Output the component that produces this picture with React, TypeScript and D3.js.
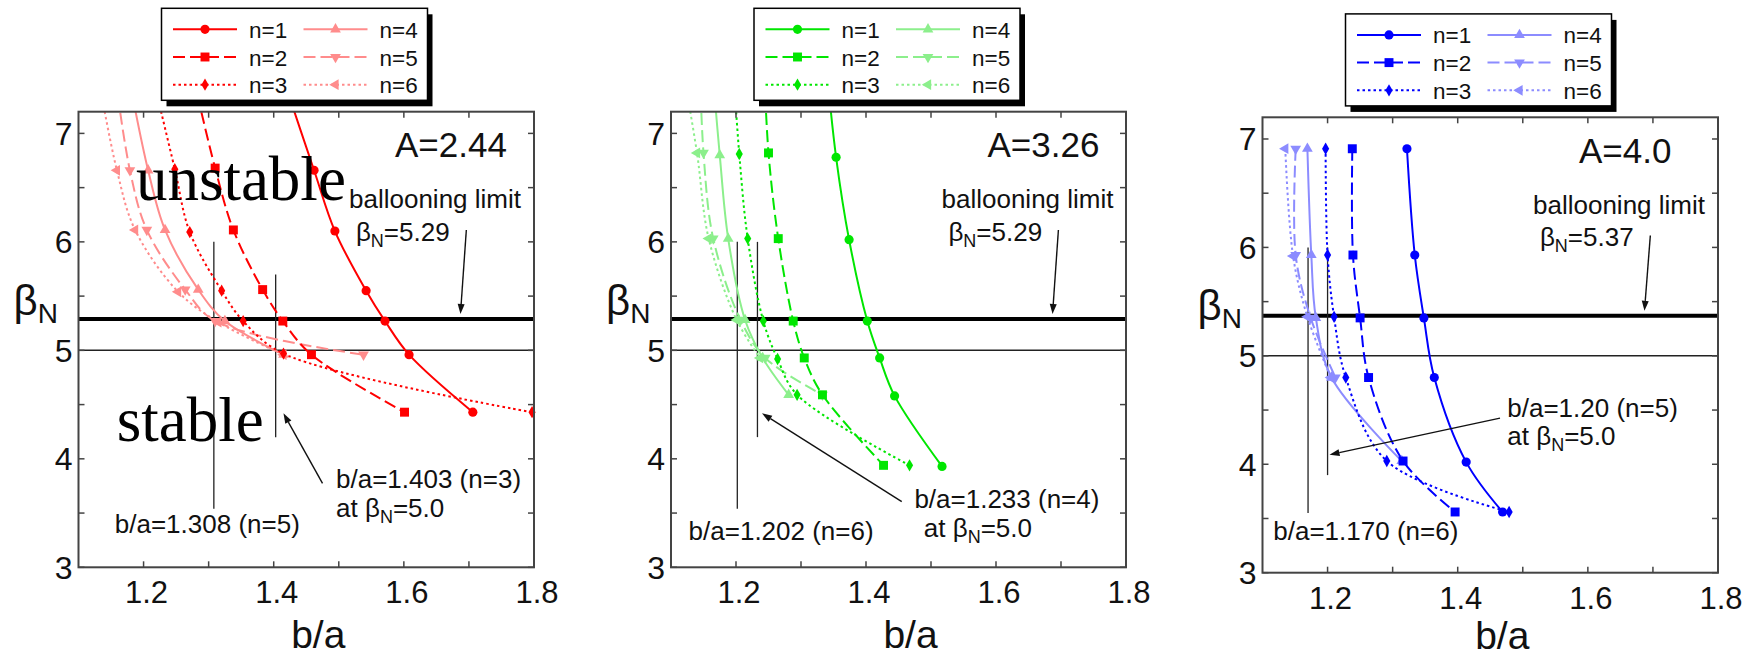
import React from "react";
import * as d3 from "d3";

type Pt = [number, number];

// ---------- axes ----------
const MODES = ["n=1", "n=2", "n=3", "n=4", "n=5", "n=6"];
const X_DOMAIN: Pt = [1.1, 1.8];
const Y_DOMAIN: Pt = [3, 7.2];
const X_MAJOR = [1.2, 1.4, 1.6, 1.8];
const X_MINOR = [1.3, 1.5, 1.7];
const Y_MAJOR = [3, 4, 5, 6, 7];
const Y_MINOR = [3.5, 4.5, 5.5, 6.5];

// ---------- A = 2.44 : beta_N limit vs b/a ----------
const a244N1: Pt[] = [[1.415, 7.5], [1.462, 6.66], [1.494, 6.10], [1.542, 5.55], [1.571, 5.27], [1.608, 4.96], [1.706, 4.43]];
const a244N2: Pt[] = [[1.277, 7.5], [1.310, 6.68], [1.338, 6.11], [1.383, 5.56], [1.414, 5.27], [1.458, 4.96], [1.601, 4.43]];
const a244N3: Pt[] = [[1.215, 7.5], [1.248, 6.67], [1.271, 6.09], [1.320, 5.55], [1.353, 5.27], [1.415, 4.97], [1.797, 4.43]];
const a244N4: Pt[] = [[1.178, 7.5], [1.207, 6.66], [1.233, 6.11], [1.284, 5.56], [1.325, 5.27], [1.415, 4.96]];
const a244N5: Pt[] = [[1.157, 7.5], [1.179, 6.66], [1.205, 6.11], [1.264, 5.56], [1.310, 5.27], [1.538, 4.96]];
const a244N6: Pt[] = [[1.131, 7.5], [1.159, 6.66], [1.187, 6.11], [1.253, 5.54], [1.315, 5.26], [1.415, 4.96]];

// ---------- A = 3.26 ----------
const a326N1: Pt[] = [[1.341, 7.5], [1.354, 6.78], [1.374, 6.02], [1.402, 5.27], [1.421, 4.93], [1.444, 4.58], [1.517, 3.93]];
const a326N2: Pt[] = [[1.244, 7.5], [1.250, 6.82], [1.265, 6.03], [1.288, 5.27], [1.305, 4.93], [1.333, 4.59], [1.427, 3.94]];
const a326N3: Pt[] = [[1.197, 7.5], [1.205, 6.81], [1.218, 6.03], [1.242, 5.27], [1.264, 4.92], [1.294, 4.59], [1.467, 3.94]];
const a326N4: Pt[] = [[1.165, 7.5], [1.175, 6.80], [1.188, 6.03], [1.214, 5.28], [1.241, 4.93], [1.281, 4.59]];
const a326N5: Pt[] = [[1.145, 7.5], [1.150, 6.82], [1.165, 6.03], [1.207, 5.28], [1.245, 4.93], [1.333, 4.59]];
const a326N6: Pt[] = [[1.121, 7.5], [1.140, 6.82], [1.158, 6.03], [1.201, 5.28], [1.237, 4.93]];

// ---------- A = 4.0 ----------
const a40N1: Pt[] = [[1.322, 6.91], [1.334, 5.93], [1.348, 5.35], [1.364, 4.80], [1.413, 4.02], [1.469, 3.56]];
const a40N2: Pt[] = [[1.238, 6.91], [1.239, 5.93], [1.250, 5.35], [1.263, 4.80], [1.316, 4.03], [1.396, 3.56]];
const a40N3: Pt[] = [[1.197, 6.91], [1.200, 5.93], [1.210, 5.36], [1.228, 4.80], [1.291, 4.03], [1.479, 3.56]];
const a40N4: Pt[] = [[1.169, 6.91], [1.175, 5.93], [1.182, 5.35], [1.206, 4.80], [1.314, 4.03]];
const a40N5: Pt[] = [[1.151, 6.91], [1.151, 5.93], [1.174, 5.35], [1.212, 4.80]];
const a40N6: Pt[] = [[1.135, 6.91], [1.147, 5.92], [1.169, 5.36], [1.205, 4.80]];

// ---------- reference levels & wall markers ----------
const BALLOONING = [5.29, 5.29, 5.37];
const BETA_REF = 5.0;
const WALL_MARKS = [
  [{ x: 1.308, top: 6.0, bottom: 3.54 }, { x: 1.403, top: 5.70, bottom: 4.2 }],
  [{ x: 1.202, top: 6.0, bottom: 3.54 }, { x: 1.233, top: 6.0, bottom: 4.2 }],
  [{ x: 1.170, top: 6.0, bottom: 3.55 }, { x: 1.20, top: 6.0, bottom: 3.90 }],
];
const WALL_ARROWS: { from: Pt; to: Pt }[] = [
  { from: [1.475, 3.774], to: [1.415, 4.419] },
  { from: [1.455, 3.605], to: [1.240, 4.419] },
  { from: [1.465, 4.426], to: [1.203, 4.088] },
];
const TITLES = ["A=2.44", "A=3.26", "A=4.0"];
const WALL_LABELS = [
  { near: "b/a=1.308 (n=5)", far: "b/a=1.403 (n=3)" },
  { near: "b/a=1.202 (n=6)", far: "b/a=1.233 (n=4)" },
  { near: "b/a=1.170 (n=6)", far: "b/a=1.20 (n=5)" },
];

// ---------- styling ----------
const PALETTES = [
  ["#ff0000", "#ff0000", "#ff0000", "#ff8c8c", "#ff8c8c", "#ff8c8c"],
  ["#00e600", "#00e600", "#00e600", "#8cef8c", "#8cef8c", "#8cef8c"],
  ["#0000ff", "#0000ff", "#0000ff", "#8c8cff", "#8c8cff", "#8c8cff"],
];
const DASHES = [null, "12,5", "2.5,3", null, "12,5", "2.5,3"];
const SANS = "'Liberation Sans', Arial, Helvetica, sans-serif";
const SERIF = "'Liberation Serif', 'Times New Roman', serif";

const FRAMES = [
  { x0: 78.5, x1: 534, y0: 111.7, y1: 567.3 },
  { x0: 671, x1: 1126, y0: 111.7, y1: 567.3 },
  { x0: 1262.5, x1: 1718, y0: 117.3, y1: 572.7 },
];

const SERIES = [
  [a244N1, a244N2, a244N3, a244N4, a244N5, a244N6],
  [a326N1, a326N2, a326N3, a326N4, a326N5, a326N6],
  [a40N1, a40N2, a40N3, a40N4, a40N5, a40N6],
];

function markerPath(i: number): { d: string; rot: number } {
  const sym = d3.symbol();
  switch (i) {
    case 0: return { d: sym.type(d3.symbolCircle).size(66)() as string, rot: 0 };
    case 1: return { d: sym.type(d3.symbolSquare).size(80)() as string, rot: 0 };
    case 2: return { d: sym.type(d3.symbolDiamond).size(44)() as string, rot: 0 };
    case 3: return { d: sym.type(d3.symbolTriangle).size(50)() as string, rot: 0 };
    case 4: return { d: sym.type(d3.symbolTriangle).size(50)() as string, rot: 180 };
    default: return { d: sym.type(d3.symbolTriangle).size(50)() as string, rot: -90 };
  }
}

function Marker({ i, cx, cy, color }: { i: number; cx: number; cy: number; color: string }) {
  const m = markerPath(i);
  return <path d={m.d} transform={`translate(${cx},${cy}) rotate(${m.rot})`} fill={color} stroke="none" />;
}

function Arrow({ x1, y1, x2, y2 }: { x1: number; y1: number; x2: number; y2: number }) {
  const ang = Math.atan2(y2 - y1, x2 - x1);
  const L = 10, W = 3.5;
  const bx = x2 - L * Math.cos(ang), by = y2 - L * Math.sin(ang);
  const px = -Math.sin(ang) * W, py = Math.cos(ang) * W;
  return (
    <g>
      <line x1={x1} y1={y1} x2={bx} y2={by} stroke="#111" strokeWidth={1.4} />
      <path d={`M${x2},${y2}L${bx + px},${by + py}L${bx - px},${by - py}Z`} fill="#111" />
    </g>
  );
}

function Legend({ x, y, colors }: { x: number; y: number; colors: string[] }) {
  const W = 266, H = 92;
  return (
    <g>
      <rect x={x + 5} y={y + 6} width={W} height={H} fill="#000" />
      <rect x={x} y={y} width={W} height={H} fill="#fff" stroke="#000" strokeWidth={1.5} />
      {MODES.map((lab, i) => {
        const col = i < 3 ? 0 : 1;
        const row = i % 3;
        const lx = x + (col ? 142 : 11.5);
        const ly = y + 21 + row * 27.7;
        return (
          <g key={lab}>
            <line x1={lx} x2={lx + 64} y1={ly} y2={ly} stroke={colors[i]} strokeWidth={2}
              strokeDasharray={DASHES[i] ?? undefined} />
            <Marker i={i} cx={lx + 32} cy={ly} color={colors[i]} />
            <text x={x + (col ? 218 : 87.5)} y={ly + 8.5} fontFamily={SANS} fontSize={22.5} fill="#111">{lab}</text>
          </g>
        );
      })}
    </g>
  );
}

function Panel({ k }: { k: number }) {
  const f = FRAMES[k];
  const colors = PALETTES[k];
  const x = d3.scaleLinear().domain(X_DOMAIN).range([f.x0, f.x1]);
  const y = d3.scaleLinear().domain(Y_DOMAIN).range([f.y1, f.y0]);
  const line = d3.line<Pt>().x((d) => x(d[0])).y((d) => y(d[1])).curve(d3.curveCatmullRom.alpha(0.5));
  const clipId = `plot-clip-${k}`;
  const tick = 6;
  const frameColor = "#444";
  const inside = (p: Pt) => p[0] >= X_DOMAIN[0] && p[0] <= X_DOMAIN[1] && p[1] >= Y_DOMAIN[0] && p[1] <= Y_DOMAIN[1];
  const order = [5, 4, 3, 2, 1, 0];
  const arrow = WALL_ARROWS[k];
  const bl = BALLOONING[k];
  const ox = f.x0, oy = f.y0;

  return (
    <g>
      <defs>
        <clipPath id={clipId}>
          <rect x={f.x0} y={f.y0} width={f.x1 - f.x0} height={f.y1 - f.y0} />
        </clipPath>
      </defs>

      {/* reference levels */}
      <line x1={f.x0} x2={f.x1} y1={y(BETA_REF)} y2={y(BETA_REF)} stroke="#222" strokeWidth={1.5} />
      <line x1={f.x0} x2={f.x1} y1={y(bl)} y2={y(bl)} stroke="#000" strokeWidth={4} />

      {/* wall position markers */}
      {WALL_MARKS[k].map((m, i) => (
        <line key={i} x1={x(m.x)} x2={x(m.x)} y1={y(m.top)} y2={y(m.bottom)} stroke="#222" strokeWidth={1.3} />
      ))}

      {/* stability boundaries */}
      <g clipPath={`url(#${clipId})`}>
        {order.map((i) => (
          <path key={i} d={line(SERIES[k][i]) as string} fill="none" stroke={colors[i]} strokeWidth={2}
            strokeDasharray={DASHES[i] ?? undefined} />
        ))}
      </g>
      {order.map((i) =>
        SERIES[k][i].filter(inside).map((p, j) => (
          <Marker key={`${i}-${j}`} i={i} cx={x(p[0])} cy={y(p[1])} color={colors[i]} />
        ))
      )}

      {/* frame and ticks */}
      <rect x={f.x0} y={f.y0} width={f.x1 - f.x0} height={f.y1 - f.y0} fill="none" stroke={frameColor} strokeWidth={2} />
      {[...X_MAJOR, ...X_MINOR].map((t) => (
        <g key={`xt${t}`}>
          <line x1={x(t)} x2={x(t)} y1={f.y1} y2={f.y1 - tick} stroke={frameColor} strokeWidth={1.5} />
          <line x1={x(t)} x2={x(t)} y1={f.y0} y2={f.y0 + tick} stroke={frameColor} strokeWidth={1.5} />
        </g>
      ))}
      {[...Y_MAJOR, ...Y_MINOR].map((t) => (
        <g key={`yt${t}`}>
          <line x1={f.x0} x2={f.x0 + tick} y1={y(t)} y2={y(t)} stroke={frameColor} strokeWidth={1.5} />
          <line x1={f.x1} x2={f.x1 - tick} y1={y(t)} y2={y(t)} stroke={frameColor} strokeWidth={1.5} />
        </g>
      ))}
      {X_MAJOR.map((t) => (
        <text key={`xl${t}`} x={x(t) + 3} y={f.y1 + 36} textAnchor="middle" fontFamily={SANS} fontSize={31} fill="#111">
          {d3.format(".1f")(t)}
        </text>
      ))}
      {Y_MAJOR.map((t) => (
        <text key={`yl${t}`} x={f.x0 - 6} y={y(t) + 11.5} textAnchor="end" fontFamily={SANS} fontSize={32} fill="#111">
          {t}
        </text>
      ))}

      {/* axis titles */}
      <text x={(f.x0 + f.x1) / 2 + 12} y={Math.min(f.y1 + 81, 649)} textAnchor="middle" fontFamily={SANS} fontSize={39} fill="#111">b/a</text>
      <text x={f.x0 - 65} y={f.y0 + 203} fontFamily={SANS} fontSize={42} fill="#111">
        β<tspan fontSize={28} dy={8}>N</tspan>
      </text>

      {/* annotations */}
      <text x={ox + 316.5} y={oy + 45.6} fontFamily={SANS} fontSize={35} fill="#111">{TITLES[k]}</text>
      <text x={ox + 270.5} y={oy + 96.6} fontFamily={SANS} fontSize={26} fill="#111">ballooning limit</text>
      <text x={ox + 277.4} y={oy + 129} fontFamily={SANS} fontSize={26} fill="#111">
        β<tspan fontSize={18} dy={6}>N</tspan><tspan dy={-6}>={bl.toFixed(2)}</tspan>
      </text>
      <Arrow x1={x(1.696)} y1={y(6.11)} x2={x(1.687)} y2={y(bl + 0.045)} />

      <Arrow x1={x(arrow.from[0])} y1={y(arrow.from[1])} x2={x(arrow.to[0])} y2={y(arrow.to[1])} />
      {k === 0 && (
        <g fontFamily={SANS} fontSize={26} fill="#111">
          <text x={ox + 257.5} y={oy + 376.6}>{WALL_LABELS[k].far}</text>
          <text x={ox + 257.5} y={oy + 405}>at β<tspan fontSize={18} dy={6}>N</tspan><tspan dy={-6}>=5.0</tspan></text>
          <text x={ox + 36.3} y={oy + 421.6}>{WALL_LABELS[k].near}</text>
        </g>
      )}
      {k === 1 && (
        <g fontFamily={SANS} fontSize={26} fill="#111">
          <text x={ox + 243.4} y={oy + 396.6}>{WALL_LABELS[k].far}</text>
          <text x={ox + 252.8} y={oy + 425}>at β<tspan fontSize={18} dy={6}>N</tspan><tspan dy={-6}>=5.0</tspan></text>
          <text x={ox + 17.6} y={oy + 428.3}>{WALL_LABELS[k].near}</text>
        </g>
      )}
      {k === 2 && (
        <g fontFamily={SANS} fontSize={26} fill="#111">
          <text x={ox + 244.8} y={oy + 299.4}>{WALL_LABELS[k].far}</text>
          <text x={ox + 244.8} y={oy + 327.7}>at β<tspan fontSize={18} dy={6}>N</tspan><tspan dy={-6}>=5.0</tspan></text>
          <text x={ox + 10.8} y={oy + 422.7}>{WALL_LABELS[k].near}</text>
        </g>
      )}
      {k === 0 && (
        <g fontFamily={SERIF} fontSize={63} fill="#000">
          <text x={ox + 57.4} y={oy + 88.3}>unstable</text>
          <text x={ox + 38.2} y={oy + 329}>stable</text>
        </g>
      )}

      <Legend x={f.x0 + 83} y={f.y0 - 103.4} colors={colors} />
    </g>
  );
}

export default function App() {
  return (
    <svg width={1759} height={658} viewBox="0 0 1759 658"
      style={{ position: "absolute", left: 0, top: 0, background: "#fff" }}>
      <rect x={0} y={0} width={1759} height={658} fill="#fff" />
      {[0, 1, 2].map((k) => <Panel key={k} k={k} />)}
    </svg>
  );
}
